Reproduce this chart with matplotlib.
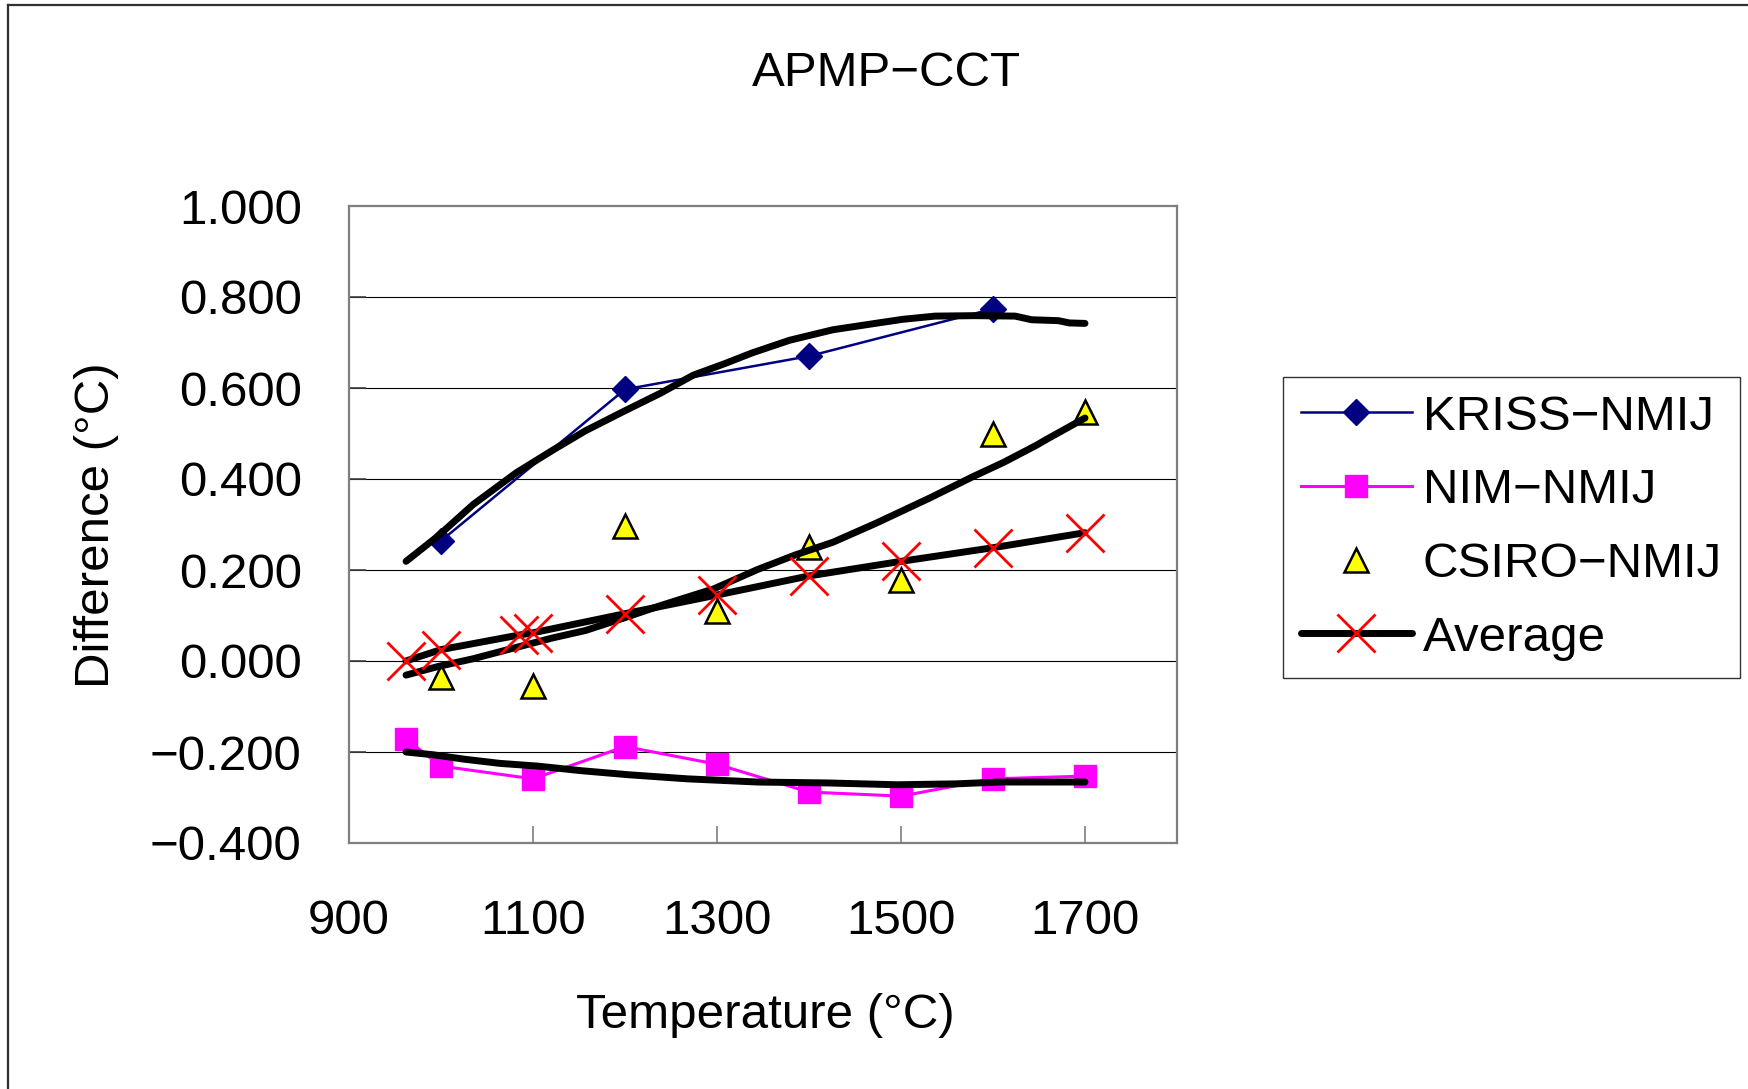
import matplotlib
matplotlib.use("Agg")
import matplotlib.pyplot as plt
from matplotlib.lines import Line2D

plt.rcParams["font.family"] = ["Liberation Sans", "DejaVu Sans"]

# Measured differences (deg C) against NMIJ
kriss_t = [1000, 1200, 1400, 1600]
kriss_d = [0.264, 0.597, 0.670, 0.774]

nim_t = [961.78, 1000, 1100, 1200, 1300, 1400, 1500, 1600, 1700]
nim_d = [-0.171, -0.231, -0.259, -0.188, -0.227, -0.288, -0.297, -0.259, -0.253]

csiro_t = [1000, 1100, 1200, 1300, 1400, 1500, 1600, 1700]
csiro_d = [-0.035, -0.056, 0.297, 0.110, 0.251, 0.178, 0.500, 0.547]

avg_t = [961.78, 1000, 1084.62, 1100, 1200, 1300, 1400, 1500, 1600, 1700]
avg_d = [0.000, 0.025, 0.057, 0.062, 0.104, 0.145, 0.187, 0.219, 0.249, 0.282]

# Trend curves
kriss_fit_t = [962, 997, 1035, 1082, 1122, 1157, 1198, 1239, 1274, 1309, 1338,
               1379, 1426, 1472, 1502, 1537, 1580, 1624, 1642, 1671, 1683, 1700]
kriss_fit_d = [0.219, 0.275, 0.344, 0.414, 0.464, 0.506, 0.548, 0.589, 0.628,
               0.654, 0.677, 0.705, 0.728, 0.742, 0.751, 0.758, 0.759, 0.758,
               0.750, 0.748, 0.743, 0.742]

csiro_fit_t = [962, 997, 1035, 1082, 1122, 1157, 1198, 1239, 1297, 1344, 1385,
               1426, 1472, 1531, 1577, 1612, 1647, 1659, 1700]
csiro_fit_d = [-0.031, -0.012, 0.005, 0.030, 0.051, 0.067, 0.094, 0.122, 0.159,
               0.201, 0.233, 0.261, 0.302, 0.358, 0.404, 0.437, 0.474, 0.488,
               0.534]

nim_fit_t = [962, 991, 1026, 1064, 1105, 1152, 1204, 1268, 1344, 1420, 1496,
             1560, 1607, 1700]
nim_fit_d = [-0.200, -0.206, -0.216, -0.225, -0.231, -0.241, -0.250, -0.259,
             -0.266, -0.268, -0.272, -0.270, -0.266, -0.266]

y_ticks = [1.0, 0.8, 0.6, 0.4, 0.2, 0.0, -0.2, -0.4]
x_ticks = [900, 1100, 1300, 1500, 1700]

W, H = 1749, 1089
fig = plt.figure(figsize=(W / 100, H / 100), dpi=100)
fig.patch.set_facecolor("white")

# axes placed in pixel terms
left, right, top, bottom = 349, 1177, 206, 843
ax = fig.add_axes([left / W, 1 - bottom / H, (right - left) / W, (bottom - top) / H])
ax.set_xlim(900, 1800)
ax.set_ylim(-0.4, 1.0)

for v in y_ticks[1:-1]:
    ax.axhline(v, color="black", lw=0.8, zorder=1)

for s in ax.spines.values():
    s.set_color("#7f7f7f")
    s.set_linewidth(1.6)

fs = 35.5
ax.set_yticks(y_ticks)
ax.set_yticklabels([f"{v:.3f}".replace("-", "\u2212") for v in y_ticks], fontsize=fs)
ax.set_xticks(x_ticks)
ax.set_xticklabels([str(v) for v in x_ticks], fontsize=fs)
ax.tick_params(axis="y", direction="in", length=12, width=1.2, color="#404040", pad=34)
ax.tick_params(axis="x", direction="in", length=12, width=1.2, color="#7f7f7f", pad=40)

ax.plot(kriss_t, kriss_d, color="#000080", lw=1.8, marker="D", ms=13,
        mfc="#000080", mec="#000080", zorder=3, label="KRISS\u2212NMIJ")
ax.plot(nim_t, nim_d, color="#ff00ff", lw=2.2, marker="s", ms=16,
        mfc="#ff00ff", mec="#ff00ff", zorder=3, label="NIM\u2212NMIJ")
ax.plot(csiro_t, csiro_d, ls="none", marker="^", ms=17, mfc="#ffff00",
        mec="black", mew=1.8, zorder=3, label="CSIRO\u2212NMIJ")

# trend curves drawn over the measured points
fit_kw = dict(color="black", lw=5.0, solid_capstyle="round", zorder=4)
ax.plot(kriss_fit_t, kriss_fit_d, **fit_kw)
ax.plot(csiro_fit_t, csiro_fit_d, **fit_kw)
ax.plot(nim_fit_t, nim_fit_d, **fit_kw)

ax.plot(avg_t, avg_d, color="black", lw=5.0, solid_capstyle="round",
        marker="x", ms=28, mec="#ff0000", mew=2.0, zorder=5, label="Average")

leg = fig.legend(loc="upper left", bbox_to_anchor=(1283 / W, 1 - 377 / H),
                 fontsize=fs, frameon=True, fancybox=False, handlelength=2.25,
                 handletextpad=0.22, borderpad=0.36, labelspacing=0.58,
                 borderaxespad=0)
leg.get_frame().set_edgecolor("black")
leg.get_frame().set_linewidth(1.0)

fig.text(886 / W, 1 - 74 / H, "APMP\u2212CCT", fontsize=fs, ha="center", va="center")
fig.text(765 / W, 1 - 1015 / H, "Temperature (\u00b0C)", fontsize=fs, ha="center", va="center")
fig.text(97 / W, 1 - 525 / H, "Difference (\u00b0C)", fontsize=fs, ha="center",
         va="center", rotation=90)

# outer frame of the chart area
fig.add_artist(Line2D([8 / W, 1], [1 - 5 / H, 1 - 5 / H], transform=fig.transFigure,
                      color="#303030", lw=1.6))
fig.add_artist(Line2D([8 / W, 8 / W], [0, 1 - 5 / H], transform=fig.transFigure,
                      color="#303030", lw=1.6))

fig.savefig("out.png", dpi=100, facecolor="white")
